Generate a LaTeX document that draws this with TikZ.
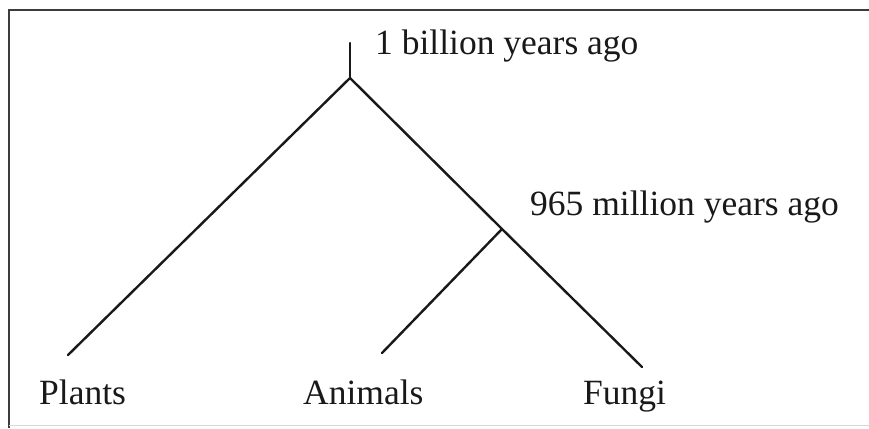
\documentclass[tikz,border=0pt]{standalone}
\usepackage{fontspec}
\setmainfont{Liberation Serif}
\usetikzlibrary{positioning}
\definecolor{treeInk}{RGB}{25, 25, 25}
\definecolor{frameInk}{RGB}{60, 60, 60}
\definecolor{frameLight}{RGB}{215, 215, 215}

\begin{document}
\begin{tikzpicture}[
  x=1pt, y=-1pt,
  branch/.style={line width=2.4pt, line cap=round, treeInk},
  label/.style={font=\fontsize{35.5}{40}\selectfont, text=treeInk,
                inner sep=0pt, anchor=base west},
  frame/.style={line width=2pt, frameInk}
]
\useasboundingbox (0,0) rectangle (869,428);
% frame
\draw[frame] (869,10) -- (9,10) -- (9,428);
\draw[frameLight, line width=1pt] (9,425) -- (869,425);
% tree points
\coordinate (stem) at (350,43);
\coordinate (root) at (350,78);
\coordinate (split) at (502,229);
\coordinate (tipP) at (68,355);
\coordinate (tipA) at (382,353);
\coordinate (tipF) at (642,367);
% labels
\node[label] (plants) at (39,404) {Plants};
\node[label] (animals) at (303,404) {Animals};
\node[label] (fungi) at (583,404) {Fungi};
\node[label] (age1) at (375,55) {1 billion years ago};
\node[label] (age2) at (530,215) {965 million years ago};
% branches
\draw[branch] (stem) -- (root);
\draw[branch] (root) -- (tipP);
\draw[branch] (root) -- (split) -- (tipF);
\draw[branch] (split) -- (tipA);
\end{tikzpicture}
\end{document}
